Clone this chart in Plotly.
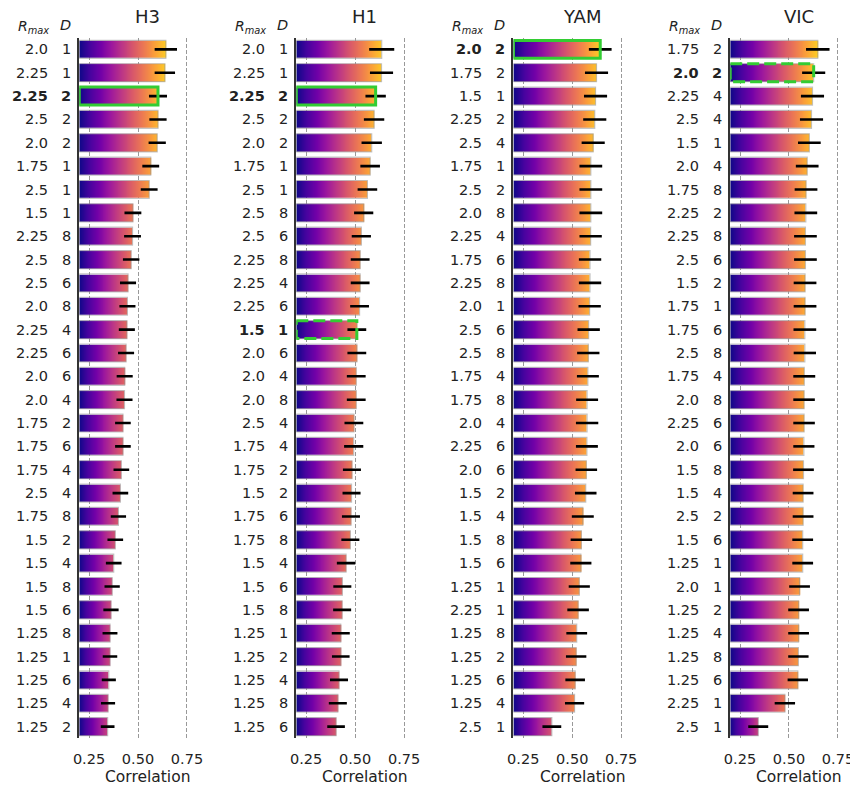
import numpy as np
import plotly.graph_objects as go

# ---------------- data ----------------
H3_rmax = ["2.0", "2.25", "2.25", "2.5", "2.0", "1.75", "2.5", "1.5", "2.25", "2.5",
           "2.5", "2.0", "2.25", "2.25", "2.0", "2.0", "1.75", "1.75", "1.75", "2.5",
           "1.75", "1.5", "1.5", "1.5", "1.5", "1.25", "1.25", "1.25", "1.25", "1.25"]
H3_D = [1, 1, 2, 2, 2, 1, 1, 1, 8, 8, 6, 8, 4, 6, 6, 4, 2, 6, 4, 4, 8, 2, 4, 8, 6, 8, 1, 6, 4, 2]
H3_corr = [0.642, 0.637, 0.602, 0.602, 0.598, 0.565, 0.557, 0.474, 0.472, 0.465,
           0.449, 0.446, 0.443, 0.439, 0.432, 0.431, 0.423, 0.423, 0.415, 0.410,
           0.400, 0.384, 0.376, 0.368, 0.362, 0.357, 0.357, 0.351, 0.347, 0.345]
H3_err = [0.057, 0.052, 0.046, 0.044, 0.044, 0.043, 0.043, 0.043, 0.043, 0.042,
          0.041, 0.041, 0.041, 0.041, 0.041, 0.041, 0.040, 0.040, 0.040, 0.040,
          0.039, 0.040, 0.040, 0.039, 0.039, 0.038, 0.037, 0.036, 0.036, 0.035]

H1_rmax = ["2.0", "2.25", "2.25", "2.5", "2.0", "1.75", "2.5", "2.5", "2.5", "2.25",
           "2.25", "2.25", "1.5", "2.0", "2.0", "2.0", "2.5", "1.75", "1.75", "1.5",
           "1.75", "1.75", "1.5", "1.5", "1.5", "1.25", "1.25", "1.25", "1.25", "1.25"]
H1_D = [1, 1, 2, 2, 2, 1, 1, 8, 6, 8, 4, 6, 1, 6, 4, 8, 4, 4, 2, 2, 6, 8, 4, 6, 8, 1, 2, 4, 8, 6]
H1_corr = [0.636, 0.635, 0.605, 0.597, 0.585, 0.577, 0.563, 0.544, 0.532, 0.526,
           0.526, 0.523, 0.509, 0.509, 0.506, 0.506, 0.494, 0.493, 0.484, 0.482,
           0.479, 0.476, 0.454, 0.435, 0.434, 0.427, 0.427, 0.418, 0.412, 0.403]
H1_err = [0.064, 0.059, 0.052, 0.052, 0.052, 0.050, 0.050, 0.049, 0.049, 0.048,
          0.048, 0.048, 0.048, 0.048, 0.048, 0.048, 0.048, 0.049, 0.046, 0.046,
          0.046, 0.046, 0.047, 0.046, 0.046, 0.046, 0.045, 0.046, 0.046, 0.045]

YAM_rmax = ["2.0", "1.75", "1.5", "2.25", "2.5", "1.75", "2.5", "2.0", "2.25", "1.75",
            "2.25", "2.0", "2.5", "2.5", "1.75", "1.75", "2.0", "2.25", "2.0", "1.5",
            "1.5", "1.5", "1.5", "1.25", "2.25", "1.25", "1.25", "1.25", "1.25", "2.5"]
YAM_D = [2, 2, 1, 2, 4, 1, 2, 8, 4, 6, 8, 1, 6, 8, 4, 8, 4, 6, 6, 2, 4, 8, 6, 1, 1, 8, 2, 6, 4, 1]
YAM_corr = [0.643, 0.624, 0.619, 0.615, 0.607, 0.595, 0.595, 0.595, 0.594, 0.591,
            0.591, 0.589, 0.584, 0.582, 0.580, 0.576, 0.576, 0.575, 0.572, 0.569,
            0.554, 0.547, 0.544, 0.536, 0.530, 0.523, 0.520, 0.515, 0.512, 0.396]
YAM_err = [0.058, 0.059, 0.059, 0.059, 0.059, 0.058, 0.058, 0.058, 0.057, 0.057,
           0.057, 0.057, 0.057, 0.057, 0.056, 0.056, 0.057, 0.056, 0.055, 0.055,
           0.056, 0.055, 0.054, 0.054, 0.055, 0.053, 0.052, 0.050, 0.049, 0.048]

VIC_rmax = ["1.75", "2.0", "2.25", "2.5", "1.5", "2.0", "1.75", "2.25", "2.25", "2.5",
            "1.5", "1.75", "1.75", "2.5", "1.75", "2.0", "2.25", "2.0", "1.5", "1.5",
            "2.5", "1.5", "1.25", "2.0", "1.25", "1.25", "1.25", "1.25", "2.25", "2.5"]
VIC_D = [2, 2, 4, 4, 1, 4, 8, 2, 8, 6, 2, 1, 6, 8, 4, 8, 6, 6, 8, 4, 2, 6, 1, 1, 2, 4, 8, 6, 1, 1]
VIC_corr = [0.647, 0.626, 0.620, 0.615, 0.604, 0.593, 0.587, 0.586, 0.584, 0.584,
            0.582, 0.582, 0.581, 0.581, 0.578, 0.577, 0.577, 0.576, 0.574, 0.572,
            0.572, 0.570, 0.570, 0.554, 0.549, 0.549, 0.548, 0.545, 0.479, 0.343]
VIC_err = [0.060, 0.059, 0.059, 0.059, 0.058, 0.058, 0.058, 0.058, 0.058, 0.058,
           0.058, 0.058, 0.058, 0.057, 0.056, 0.055, 0.055, 0.054, 0.053, 0.053,
           0.053, 0.053, 0.053, 0.053, 0.053, 0.053, 0.052, 0.052, 0.052, 0.051]

titles = ["H3", "H1", "YAM", "VIC"]
tick_vals = [0.25, 0.50, 0.75]
tick_text = ["0.25", "0.50", "0.75"]
# highlighted rows: (panel, row index, style)
highlights = [(0, 2, "solid"), (1, 2, "solid"), (1, 12, "dash"), (2, 0, "solid"), (3, 1, "dash")]

panels = [
    (H3_rmax, H3_D, H3_corr, H3_err),
    (H1_rmax, H1_D, H1_corr, H1_err),
    (YAM_rmax, YAM_D, YAM_corr, YAM_err),
    (VIC_rmax, VIC_D, VIC_corr, VIC_err),
]

# ---------------- layout geometry ----------------
OFF = 8                      # page body margin of the html page
W, H = 858 - OFF, 790 - OFF  # figure size
XMIN, XMAX = 0.2, 0.9
PX_PER_UNIT = 197.3
spines = [73.7, 292.3, 511.0, 729.3]   # screen px
y_top, y_bot = 37.7, 738.3              # screen px
CMAP_TOP = 0.72
FONT = "DejaVu Sans"
TXT = "#222222"
GREEN = "#33cc33"


def px(x):
    return (x - OFF) / W


def py(y):
    return 1 - (y - OFF) / H


fig = go.Figure()
annotations = []
shapes = []
layout_axes = {}

step = 0.0025
xc = np.arange(XMIN + step / 2, XMAX, step)

for p, (rmax, dvals, corr, err) in enumerate(panels):
    n = len(corr)
    idx = list(range(n))
    sfx = "" if p == 0 else str(p + 1)
    xa, ya = "x" + sfx, "y" + sfx
    bold_rows = {i for (pp, i, s) in highlights if pp == p}

    # gradient bars
    z = []
    for v in corr:
        row = np.where(xc < v, (xc - XMIN) / (v - XMIN) * (v / CMAP_TOP), np.nan)
        z.append(row.tolist())
    fig.add_trace(go.Heatmap(x=xc.tolist(), y=idx, z=z, colorscale="Plasma", zmin=0, zmax=1,
                             showscale=False, ygap=6, hoverinfo="skip", xaxis=xa, yaxis=ya))
    # light outline of bars
    fig.add_trace(go.Bar(x=[v - XMIN for v in corr], base=XMIN, y=idx, orientation="h", width=0.77,
                         marker=dict(color="rgba(0,0,0,0)", line=dict(color="rgba(150,150,150,0.55)", width=1.2)),
                         hoverinfo="skip", showlegend=False, xaxis=xa, yaxis=ya))
    # error bars
    fig.add_trace(go.Scatter(x=corr, y=idx, mode="markers",
                             marker=dict(size=1, color="rgba(0,0,0,0)"),
                             error_x=dict(type="data", array=err, symmetric=True, color="black",
                                          thickness=2.6, width=0),
                             hoverinfo="skip", showlegend=False, xaxis=xa, yaxis=ya))

    right_scr = spines[p] + (XMAX - XMIN) * PX_PER_UNIT
    rng_end = XMAX if right_scr <= 858 else XMIN + (858 - spines[p]) / PX_PER_UNIT
    right_scr = min(right_scr, 858)
    layout_axes["xaxis" + sfx] = dict(
        domain=[px(spines[p]), px(right_scr)], range=[XMIN, rng_end], anchor=ya,
        tickvals=tick_vals, ticktext=tick_text, showgrid=True, gridcolor="#999999",
        griddash="4px,2px", gridwidth=1, zeroline=False, showline=False,
        ticks="outside", ticklen=7, tickcolor="rgba(0,0,0,0)",
        tickfont=dict(family=FONT, size=14.5, color=TXT), fixedrange=True)
    layout_axes["yaxis" + sfx] = dict(
        domain=[py(y_bot), py(y_top)], range=[n - 0.5, -0.5], anchor=xa,
        showticklabels=False, showgrid=False, zeroline=False, showline=True,
        linecolor="#333333", linewidth=1.5, ticks="", fixedrange=True)

    # row labels
    for i in idx:
        r_txt = f"<b>{rmax[i]}</b>" if i in bold_rows else rmax[i]
        d_txt = f"<b>{dvals[i]}</b>" if i in bold_rows else str(dvals[i])
        annotations.append(dict(x=XMIN, y=i, xref=xa, yref=ya, text=r_txt, showarrow=False,
                                xanchor="right", yanchor="middle", xshift=-29.5,
                                font=dict(family=FONT, size=14.5, color=TXT)))
        annotations.append(dict(x=XMIN, y=i, xref=xa, yref=ya, text=d_txt, showarrow=False,
                                xanchor="center", yanchor="middle", xshift=-13,
                                font=dict(family=FONT, size=14.5, color=TXT)))
    # headers
    annotations.append(dict(x=XMIN, y=py(27), xref=xa, yref="paper",
                            text="<i>R</i><sub><i>max</i></sub>", showarrow=False,
                            xanchor="center", yanchor="middle", xshift=-46,
                            font=dict(family=FONT, size=14, color=TXT)))
    annotations.append(dict(x=XMIN, y=py(25), xref=xa, yref="paper",
                            text="<i>D</i>", showarrow=False,
                            xanchor="center", yanchor="middle", xshift=-13.5,
                            font=dict(family=FONT, size=14.5, color=TXT)))
    # title
    annotations.append(dict(x=(XMIN + XMAX) / 2, y=py(16.5), xref=xa, yref="paper",
                            text=titles[p], showarrow=False, xanchor="center", yanchor="middle",
                            font=dict(family=FONT, size=18, color=TXT)))
    # x axis title
    annotations.append(dict(x=(XMIN + XMAX) / 2, y=py(777), xref=xa, yref="paper",
                            text="Correlation", showarrow=False, xanchor="center", yanchor="middle",
                            font=dict(family=FONT, size=15.5, color=TXT)))

    # highlight boxes
    for (pp, i, style) in highlights:
        if pp != p:
            continue
        shapes.append(dict(type="rect", xref=xa, yref=ya, x0=XMIN, x1=corr[i],
                           y0=i - 0.385, y1=i + 0.385,
                           line=dict(color=GREEN, width=3,
                                     dash="solid" if style == "solid" else "12px,5px"),
                           fillcolor="rgba(0,0,0,0)"))

fig.update_layout(
    width=W, height=H, margin=dict(l=0, r=0, t=0, b=0),
    paper_bgcolor="white", plot_bgcolor="white",
    showlegend=False, barmode="overlay",
    annotations=annotations, shapes=shapes,
    font=dict(family=FONT, color=TXT),
    **layout_axes,
)

fig.write_html("out.html")
